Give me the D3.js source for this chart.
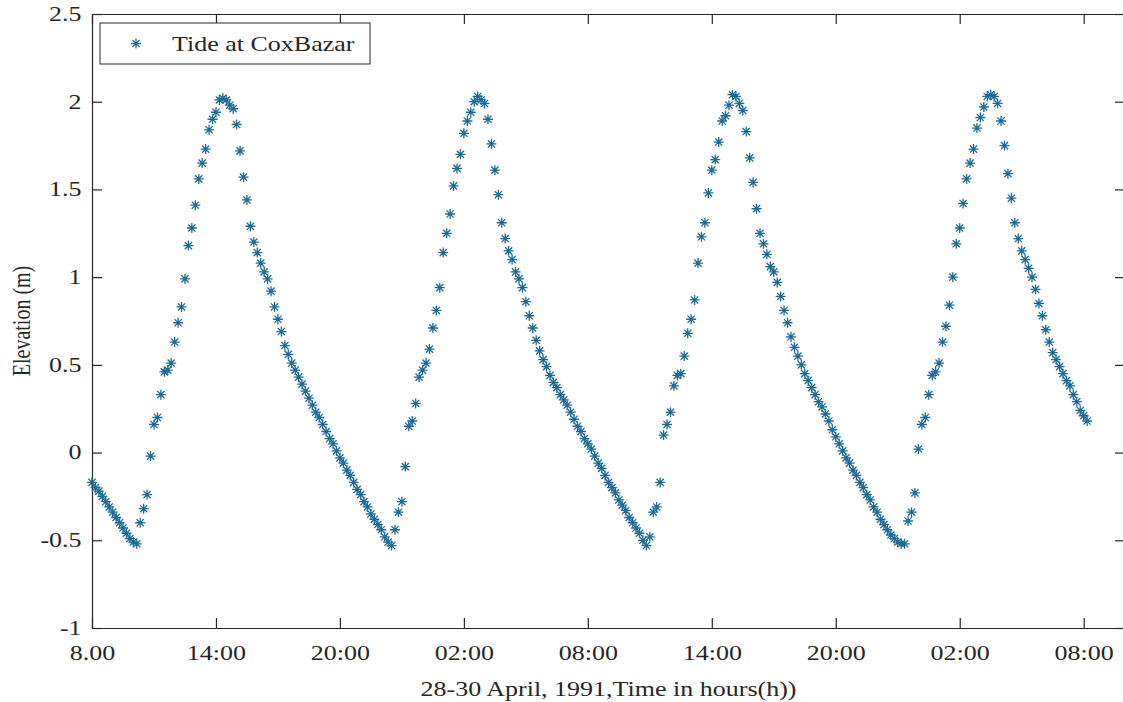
<!DOCTYPE html>
<html>
<head>
<meta charset="utf-8">
<script src="https://cdn.jsdelivr.net/npm/d3@7"></script>
<style>
    body { margin: 0; background: #fff; }
    #chart { width: 1123px; height: 702px; }
    text { font-family: "Times New Roman", "Liberation Serif", serif; fill: #262626; }
</style>
</head>
<body>
<div id="chart"></div>
<script>
// water level at Cox's Bazar, one reading every 10 minutes from 08:00 on 28 April
const sampleMinutes = 10;
const elevation = [
    -0.17, -0.20, -0.22, -0.25, -0.28, -0.31, -0.34, -0.37, -0.40, -0.43,
    -0.46, -0.49, -0.51, -0.52, -0.40, -0.32, -0.24, -0.02, 0.16, 0.20,
    0.33, 0.46, 0.47, 0.51, 0.63, 0.74, 0.83, 0.99, 1.18, 1.28,
    1.41, 1.56, 1.65, 1.73, 1.84, 1.90, 1.94, 2.01, 2.02, 2.01,
    1.98, 1.96, 1.87, 1.72, 1.57, 1.44, 1.29, 1.20, 1.14, 1.08,
    1.03, 0.99, 0.92, 0.83, 0.76, 0.69, 0.61, 0.56, 0.51, 0.47,
    0.43, 0.39, 0.35, 0.31, 0.27, 0.23, 0.20, 0.16, 0.12, 0.08,
    0.05, 0.01, -0.03, -0.06, -0.10, -0.13, -0.17, -0.21, -0.24, -0.28,
    -0.31, -0.35, -0.38, -0.41, -0.44, -0.48, -0.51, -0.53, -0.44, -0.34,
    -0.28, -0.08, 0.15, 0.18, 0.28, 0.43, 0.47, 0.51, 0.59, 0.71,
    0.81, 0.94, 1.14, 1.25, 1.36, 1.52, 1.62, 1.70, 1.82, 1.89,
    1.94, 2.00, 2.03, 2.01, 1.99, 1.90, 1.76, 1.61, 1.47, 1.31,
    1.22, 1.15, 1.10, 1.03, 0.99, 0.94, 0.86, 0.78, 0.71, 0.64,
    0.58, 0.53, 0.49, 0.44, 0.40, 0.37, 0.33, 0.30, 0.27, 0.23,
    0.19, 0.15, 0.12, 0.08, 0.05, 0.02, -0.02, -0.06, -0.09, -0.13,
    -0.17, -0.20, -0.23, -0.27, -0.30, -0.33, -0.37, -0.40, -0.43, -0.46,
    -0.50, -0.53, -0.48, -0.34, -0.31, -0.17, 0.10, 0.16, 0.23, 0.38,
    0.44, 0.45, 0.55, 0.68, 0.76, 0.87, 1.08, 1.23, 1.31, 1.48,
    1.61, 1.67, 1.77, 1.89, 1.92, 1.98, 2.04, 2.03, 1.99, 1.95,
    1.83, 1.68, 1.54, 1.39, 1.25, 1.19, 1.13, 1.06, 1.03, 0.97,
    0.89, 0.81, 0.74, 0.66, 0.60, 0.55, 0.50, 0.45, 0.41, 0.37,
    0.33, 0.29, 0.26, 0.22, 0.18, 0.13, 0.09, 0.05, 0.01, -0.03,
    -0.06, -0.10, -0.13, -0.17, -0.20, -0.24, -0.27, -0.31, -0.34, -0.38,
    -0.41, -0.44, -0.47, -0.49, -0.51, -0.52, -0.52, -0.39, -0.34, -0.23,
    0.02, 0.16, 0.20, 0.33, 0.44, 0.46, 0.51, 0.63, 0.72, 0.84,
    1.00, 1.19, 1.28, 1.42, 1.56, 1.65, 1.73, 1.85, 1.91, 1.97,
    2.03, 2.04, 2.03, 1.99, 1.89, 1.75, 1.59, 1.45, 1.31, 1.22,
    1.15, 1.10, 1.05, 1.00, 0.93, 0.85, 0.78, 0.70, 0.63, 0.57,
    0.53, 0.49, 0.45, 0.41, 0.38, 0.33, 0.29, 0.24, 0.21, 0.18
];

const xTickHours = [0, 6, 12, 18, 24, 30, 36, 42, 48];
const xTickLabels = ['8.00', '14:00', '20:00', '02:00', '08:00', '14:00', '20:00', '02:00', '08:00'];
const yTicks = [-1, -0.5, 0, 0.5, 1, 1.5, 2, 2.5];

const markerColor = '#1c6a96';
const axisColor = '#262626';
const stretch = 1.3;   // the source figure's text is wider than tall

const margin = {top: 14, right: -2, bottom: 74, left: 92};
const width = 1123 - margin.left - margin.right;
const height = 702 - margin.top - margin.bottom;

const svg = d3.select('#chart').append('svg')
    .attr('width', 1123)
    .attr('height', 702)
    .append('g')
    .attr('transform', `translate(${margin.left},${margin.top})`);

const x = d3.scaleLinear().domain([0, 50]).range([0, width]);
const y = d3.scaleLinear().domain([-1, 2.5]).range([height, 0]);

function asterisk(r) {
    const d = r * 0.72;
    return `M${-r},0H${r}M0,${-r}V${r}M${-d},${-d}L${d},${d}M${-d},${d}L${d},${-d}`;
}

function styleAxis(g) {
    g.select('.domain').attr('stroke', axisColor).attr('stroke-width', 1.2);
    g.selectAll('.tick line').attr('stroke', axisColor).attr('stroke-width', 1.2);
    g.selectAll('.tick text')
        .attr('fill', axisColor)
        .style('font-size', '20px')
        .style('font-family', '"Times New Roman", "Liberation Serif", serif');
}

// bottom axis with labels
const xAxis = svg.append('g')
    .attr('transform', `translate(0,${height})`)
    .call(d3.axisBottom(x)
        .tickValues(xTickHours)
        .tickFormat((d, i) => xTickLabels[i])
        .tickSizeInner(-10)
        .tickSizeOuter(0)
        .tickPadding(18))
    .call(styleAxis);
xAxis.selectAll('.tick text').attr('transform', `scale(${stretch},1)`);

svg.append('g')
    .call(d3.axisTop(x).tickValues(xTickHours).tickFormat('').tickSizeInner(-10).tickSizeOuter(0))
    .call(styleAxis);

const yAxis = svg.append('g')
    .call(d3.axisLeft(y)
        .tickValues(yTicks)
        .tickFormat(d => String(d))
        .tickSizeInner(-10)
        .tickSizeOuter(0)
        .tickPadding(8))
    .call(styleAxis);
yAxis.selectAll('.tick text').attr('transform', `scale(${stretch},1)`);

svg.append('g')
    .attr('transform', `translate(${width},0)`)
    .call(d3.axisRight(y).tickValues(yTicks).tickFormat('').tickSizeInner(-10).tickSizeOuter(0))
    .call(styleAxis);

// axis titles
svg.append('text')
    .attr('text-anchor', 'middle')
    .attr('transform', `translate(${width / 2},${height + 68}) scale(${stretch},1)`)
    .style('font-size', '20px')
    .text('28-30 April, 1991,Time in hours(h))');

svg.append('text')
    .attr('text-anchor', 'middle')
    .attr('transform', `translate(${-margin.left + 30},${height / 2}) rotate(-90) scale(1,${stretch})`)
    .style('font-size', '20px')
    .text('Elevation (m)');

// data points
svg.selectAll('.pt')
    .data(elevation)
    .enter()
    .append('path')
    .attr('class', 'pt')
    .attr('transform', (d, i) => `translate(${x(i * sampleMinutes / 60)},${y(d)})`)
    .attr('d', asterisk(5))
    .attr('fill', 'none')
    .attr('stroke', markerColor)
    .attr('stroke-width', 1.3);

// legend
const legend = svg.append('g').attr('transform', 'translate(8,9)');
legend.append('rect')
    .attr('width', 270)
    .attr('height', 41)
    .attr('fill', '#fff')
    .attr('stroke', axisColor)
    .attr('stroke-width', 1);
legend.append('path')
    .attr('transform', 'translate(36,20.5)')
    .attr('d', asterisk(5))
    .attr('fill', 'none')
    .attr('stroke', markerColor)
    .attr('stroke-width', 1.3);
legend.append('text')
    .attr('transform', `translate(72,28) scale(${stretch},1)`)
    .style('font-size', '20px')
    .text('Tide at CoxBazar');
</script>
</body>
</html>
